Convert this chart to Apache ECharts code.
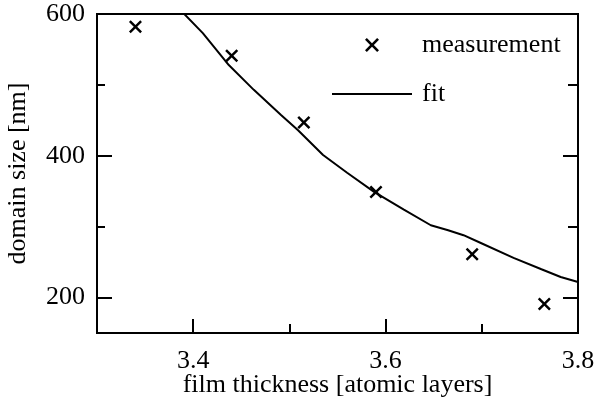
<!DOCTYPE html>
<html>
<head>
<meta charset="utf-8">
<script src="https://cdn.jsdelivr.net/npm/echarts@6/dist/echarts.min.js"></script>
<style>
	html, body { margin: 0; padding: 0; background: #fff; }
	#chart { width: 603px; height: 403px; }
</style>
</head>
<body>
<div id="chart"></div>
<script>
// measured points
var measX = [3.340, 3.440, 3.515, 3.590, 3.690, 3.765];
var measY = [582, 541, 447, 349, 261, 191];
// fit curve
var fitX = [3.385, 3.410, 3.437, 3.463, 3.491, 3.509, 3.535, 3.560, 3.588, 3.619, 3.647, 3.665, 3.681, 3.699, 3.733, 3.762, 3.782, 3.800];
var fitY = [608, 573, 528, 493, 458, 436, 401, 376, 349, 324, 302, 295, 288, 277, 256, 240, 229, 222];
// ticks
var xMajorTicks = [3.4, 3.6];
var xMinorTicks = [3.5, 3.7];
var xLabels = [3.4, 3.6, 3.8];
var yMajorTicks = [200, 400, 600];
var yMinorTicks = [300, 500];
var yLabels = [200, 400, 600];

var font = 'Liberation Serif';
var fontSize = 26;
var crossPath = 'path://M0,1.6L1.6,0L6,4.4L10.4,0L12,1.6L7.6,6L12,10.4L10.4,12L6,7.6L1.6,12L0,10.4L4.4,6Z';
var linePath = 'path://M0,0H80V2H0Z';

function pairs(xs, ys){
	var out = [];
	for(var i=0;i<xs.length;i++){
		out.push([xs[i], ys[i]]);
	}
	return out;
}

function tickAxis(pos, ticks, len, withLine){
	return {
		type: 'value',
		position: pos,
		min: 150,
		max: 600,
		axisLine: { show: withLine, lineStyle: { color: '#000', width: 2 } },
		axisTick: { show: true, inside: true, length: len, customValues: ticks, lineStyle: { color: '#000', width: 2 } },
		axisLabel: { show: false },
		splitLine: { show: false }
	};
}

var chart = echarts.init(document.getElementById('chart'));
var option = {
	animation: false,
	backgroundColor: '#fff',
	grid: {
		left: 97, right: 25, top: 14, bottom: 70,
		outerBoundsMode: 'none',
		show: true, borderColor: '#000', borderWidth: 2
	},
	legend: {
		orient: 'vertical',
		left: 327,
		top: 27,
		itemWidth: 80,
		itemHeight: 14,
		itemGap: 23,
		symbolKeepAspect: true,
		textStyle: { fontFamily: font, fontSize: fontSize, color: '#000', padding: [0, 0, 0, 5] },
		data: [
			{ name: 'measurement', icon: crossPath },
			{ name: 'fit', icon: linePath }
		]
	},
	xAxis: [
		{
			type: 'value',
			position: 'bottom',
			min: 3.3,
			max: 3.8,
			name: 'film thickness [atomic layers]',
			nameLocation: 'middle',
			nameGap: 39,
			nameMoveOverlap: false,
			nameTextStyle: { fontFamily: font, fontSize: fontSize, color: '#000' },
			axisLine: { lineStyle: { color: '#000', width: 2 } },
			axisTick: { inside: true, length: 14, customValues: xMajorTicks, lineStyle: { color: '#000', width: 2 } },
			axisLabel: { customValues: xLabels, margin: 15, fontFamily: font, fontSize: fontSize, color: '#000' },
			splitLine: { show: false }
		},
		{
			type: 'value',
			position: 'bottom',
			min: 3.3,
			max: 3.8,
			axisLine: { show: false },
			axisTick: { inside: true, length: 9, customValues: xMinorTicks, lineStyle: { color: '#000', width: 2 } },
			axisLabel: { show: false },
			splitLine: { show: false }
		}
	],
	yAxis: [
		{
			type: 'value',
			position: 'left',
			min: 150,
			max: 600,
			name: 'domain size [nm]',
			nameLocation: 'middle',
			nameGap: 66,
			nameMoveOverlap: false,
			nameTextStyle: { fontFamily: font, fontSize: fontSize, color: '#000' },
			axisLine: { lineStyle: { color: '#000', width: 2 } },
			axisTick: { inside: true, length: 15, customValues: yMajorTicks, lineStyle: { color: '#000', width: 2 } },
			axisLabel: { customValues: yLabels, margin: 12, fontFamily: font, fontSize: fontSize, color: '#000' },
			splitLine: { show: false }
		},
		tickAxis('left', yMinorTicks, 8, false),
		tickAxis('right', yMajorTicks, 15, true),
		tickAxis('right', yMinorTicks, 10, false)
	],
	series: [
		{
			name: 'measurement',
			type: 'scatter',
			symbol: crossPath,
			symbolSize: 13,
			itemStyle: { color: '#000', opacity: 1 },
			data: pairs(measX, measY)
		},
		{
			name: 'fit',
			type: 'line',
			symbol: 'none',
			smooth: false,
			clip: true,
			itemStyle: { color: '#000' },
			lineStyle: { color: '#000', width: 2 },
			data: pairs(fitX, fitY)
		}
	]
};
chart.setOption(option);
</script>
</body>
</html>
